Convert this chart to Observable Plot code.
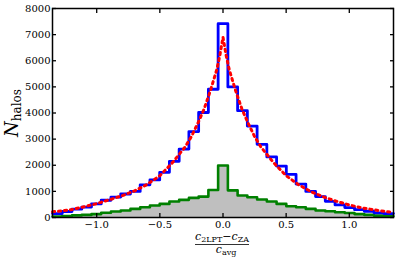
<!DOCTYPE html>
<html>
<head>
<meta charset="utf-8">
<script src="https://cdn.jsdelivr.net/npm/d3@7"></script>
<script src="https://cdn.jsdelivr.net/npm/@observablehq/plot@0.6"></script>
<style>
  html, body { margin: 0; padding: 0; background: #fff; }
  #chart { width: 399px; height: 260px; }
</style>
</head>
<body>
<div id="chart"></div>
<script>
// Histogram bin edges (35 bins)
const binEdges = [-1.35, -1.2729, -1.1957, -1.1186, -1.0414, -0.9643, -0.8871, -0.8100, -0.7329,
  -0.6557, -0.5786, -0.5014, -0.4243, -0.3471, -0.2700, -0.1929, -0.1157, -0.0386,
  0.0386, 0.1157, 0.1929, 0.2700, 0.3471, 0.4243, 0.5014, 0.5786, 0.6557, 0.7329,
  0.8100, 0.8871, 0.9643, 1.0414, 1.1186, 1.1957, 1.2729, 1.35];
// Blue histogram (all halos)
const blueCounts = [150, 230, 320, 400, 520, 660, 780, 900, 1000, 1250, 1440, 1730, 2150, 2620, 3290, 4020, 4910,
  7420,
  5000, 4090, 3500, 2800, 2320, 1970, 1650, 1280, 1000, 800, 620, 480, 380, 300, 240, 180, 150];
// Green histogram (subset, filled grey)
const greenCounts = [40, 60, 80, 100, 130, 180, 230, 270, 330, 395, 460, 520, 610, 675, 750, 800, 1050,
  1990,
  1040, 840, 775, 690, 610, 520, 430, 390, 330, 270, 240, 200, 170, 130, 100, 70, 50];
// Red dotted fit curve
const fitX = [-1.35, -1.3, -1.2, -1.1, -1.0, -0.9, -0.8, -0.7, -0.6, -0.5, -0.4, -0.3, -0.25, -0.2, -0.15, -0.1, -0.075, -0.05, -0.025, 0,
  0.025, 0.05, 0.075, 0.1, 0.15, 0.2, 0.25, 0.3, 0.4, 0.5, 0.6, 0.7, 0.8, 0.9, 1.0, 1.1, 1.2, 1.3, 1.35];
const fitY = [220, 240, 300, 410, 530, 680, 830, 1020, 1270, 1600, 2100, 2700, 3100, 3600, 4150, 4850, 5250, 5650, 6200, 6900,
  6200, 5650, 5250, 4850, 4150, 3600, 3100, 2700, 2100, 1600, 1250, 980, 780, 620, 480, 370, 290, 220, 200];
// Tick values
const xTicks = [-1.0, -0.5, 0.0, 0.5, 1.0];
const yTicks = [0, 1000, 2000, 3000, 4000, 5000, 6000, 7000, 8000];

const steps = binEdges.map((e, i) => ({
  x: e,
  blue: blueCounts[Math.min(i, blueCounts.length - 1)],
  green: greenCounts[Math.min(i, greenCounts.length - 1)]
}));
const fit = fitX.map((x, i) => ({x, y: fitY[i]}));
const fmt = d => d.toFixed(1).replace("-", "\u2212");

const svg = Plot.plot({
  width: 399,
  height: 260,
  marginLeft: 52,
  marginRight: 6,
  marginTop: 8,
  marginBottom: 43,
  style: {fontFamily: "DejaVu Serif", fontSize: "10px", color: "black", background: "white"},
  x: {domain: [-1.35, 1.35]},
  y: {domain: [0, 8000]},
  marks: [
    Plot.areaY(steps, {x: "x", y: "green", curve: "step-after", fill: "#bfbfbf"}),
    Plot.line(steps, {x: "x", y: "green", curve: "step-after", stroke: "#008000", strokeWidth: 2.6}),
    Plot.line(steps, {x: "x", y: "blue", curve: "step-after", stroke: "#0000ff", strokeWidth: 2.8}),
    Plot.line(fit, {x: "x", y: "y", stroke: "#ff0000", strokeWidth: 3, strokeDasharray: "2.2,3.8"}),
    Plot.axisX({anchor: "bottom", ticks: xTicks, tickSize: -4, tickPadding: 7, tickFormat: fmt, label: null, strokeWidth: 1.3}),
    Plot.axisX({anchor: "top", ticks: xTicks, tickSize: -4, tickFormat: () => "", label: null, strokeWidth: 1.3}),
    Plot.axisY({anchor: "left", ticks: yTicks, tickSize: -4, tickPadding: 6, tickFormat: d => String(d), label: null, strokeWidth: 1.3}),
    Plot.axisY({anchor: "right", ticks: yTicks, tickSize: -4, tickFormat: () => "", label: null, strokeWidth: 1.3}),
    Plot.frame({stroke: "black", strokeWidth: 1.5})
  ]
});

document.getElementById("chart").appendChild(svg);

// Axis labels with subscripts
const s = d3.select(svg);
const serif = "DejaVu Serif";
// x label: fraction
const num = s.append("text").attr("x", 222).attr("y", 240).attr("text-anchor", "middle")
  .attr("font-family", serif).attr("font-size", 11);
num.append("tspan").attr("font-style", "italic").text("c");
num.append("tspan").attr("font-size", 8).attr("dy", 2).text("2LPT");
num.append("tspan").attr("dy", -2).text("\u2212");
num.append("tspan").attr("font-style", "italic").text("c");
num.append("tspan").attr("font-size", 8).attr("dy", 2).text("ZA");
s.append("line").attr("x1", 195).attr("x2", 249).attr("y1", 244.5).attr("y2", 244.5)
  .attr("stroke", "black").attr("stroke-width", 0.8);
const den = s.append("text").attr("x", 226).attr("y", 253).attr("text-anchor", "middle")
  .attr("font-family", serif).attr("font-size", 11);
den.append("tspan").attr("font-style", "italic").text("c");
den.append("tspan").attr("font-size", 8).attr("dy", 2).text("avg");
// y label
const yl = s.append("text").attr("transform", "translate(18,113) rotate(-90)").attr("text-anchor", "middle")
  .attr("font-family", serif).attr("font-size", 18);
yl.append("tspan").attr("font-style", "italic").text("N");
yl.append("tspan").attr("font-size", 12).attr("dy", 3).text("halos");
</script>
</body>
</html>
